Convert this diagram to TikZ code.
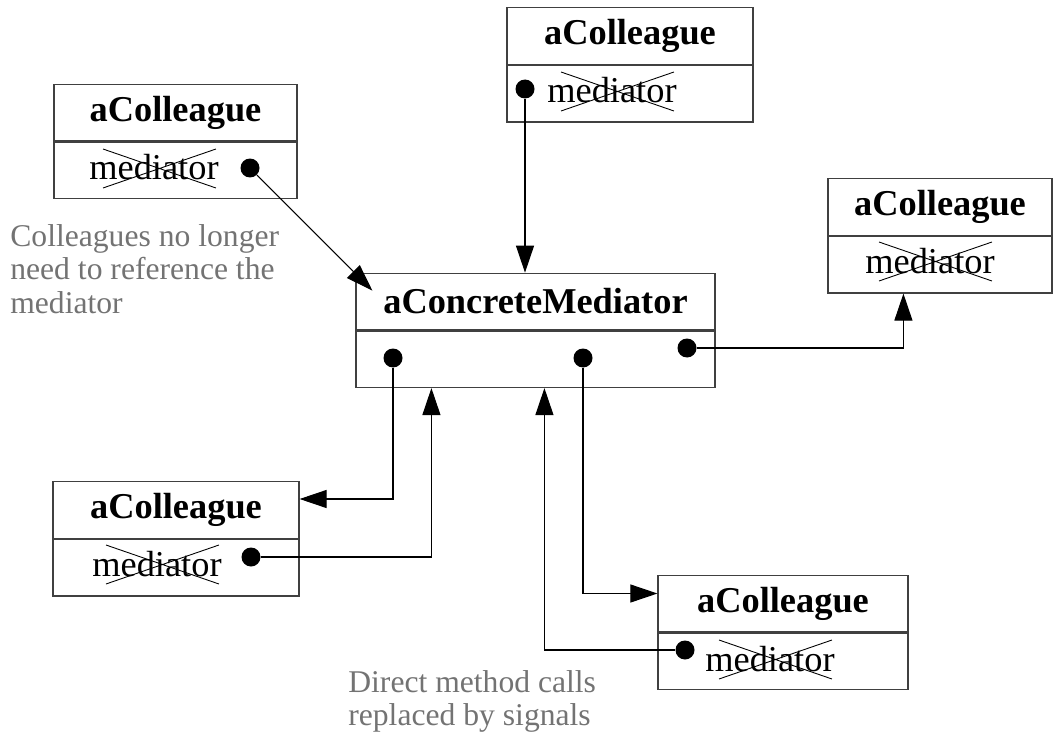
\documentclass[tikz,border=0pt]{standalone}
\usepackage{fontspec}
\setmainfont{Liberation Serif}
\usetikzlibrary{arrows.meta}

\begin{document}
\begin{tikzpicture}[
    x=0.02cm, y=-0.02cm,
    title/.style={rectangle, draw=black!75, line width=0.7pt, minimum height=1.13cm, inner sep=0pt, font=\bfseries\fontsize{20.7}{24}\selectfont},
    field/.style={rectangle, draw=black!75, line width=0.7pt, minimum height=1.13cm, inner sep=0pt, anchor=north},
    attr/.style={anchor=base west, inner sep=0pt, font=\fontsize{20.7}{24}\selectfont},
    dot/.style={circle, fill=black, inner sep=0pt, minimum size=0.38cm},
    conn/.style={line width=0.6pt},
    arrow/.style={conn, -{Triangle[length=0.54cm, width=0.36cm]}},
    cross/.style={line width=0.5pt},
    note/.style={anchor=north west, align=left, inner sep=0pt, text=black!55, font=\fontsize{18}{19.1}\selectfont},
]
\useasboundingbox (0,0) rectangle (1064,733);

% Mediator
\node[title, minimum width=7.18cm] (m) at (535.5,301.5) {aConcreteMediator};
\node[field, minimum width=7.18cm] (mf) at (m.south) {};

% Colleagues
\node[title, minimum width=4.86cm] (c1) at (175.5,112.5) {aColleague};
\node[field, minimum width=4.86cm] (c1f) at (c1.south) {};
\node[title, minimum width=4.92cm] (c2) at (630,36) {aColleague};
\node[field, minimum width=4.92cm] (c2f) at (c2.south) {};
\node[title, minimum width=4.48cm] (c3) at (940,207) {aColleague};
\node[field, minimum width=4.48cm] (c3f) at (c3.south) {};
\node[title, minimum width=4.92cm] (c4) at (176,510) {aColleague};
\node[field, minimum width=4.92cm] (c4f) at (c4.south) {};
\node[title, minimum width=5cm] (c5) at (783,603.5) {aColleague};
\node[field, minimum width=5cm] (c5f) at (c5.south) {};

% crossed-out mediator fields
\node[attr] (c1a) at (89,180) {mediator};
\node[attr] (c2a) at (547,103) {mediator};
\node[attr] (c3a) at (865,273) {mediator};
\node[attr] (c4a) at (92,576) {mediator};
\node[attr] (c5a) at (705,671) {mediator};
\foreach \n in {c1a,c2a,c3a,c4a,c5a}
    \draw[cross] ([shift={(14,-31)}]\n.base west) -- ([shift={(-3,8)}]\n.base east)
                 ([shift={(14,8)}]\n.base west) -- ([shift={(-3,-31)}]\n.base east);

% Dots
\node[dot] (d1) at (250,168) {};
\node[dot] (d2) at (525,89) {};
\node[dot] (d3) at (687,348) {};
\node[dot] (d4) at (393,358) {};
\node[dot] (d5) at (251,557) {};
\node[dot] (d6) at (583,358) {};
\node[dot] (d7) at (685,650) {};

% Connectors
\draw[arrow] (d1) -- ([shift={(17,18)}]m.north west);
\draw[arrow] (d2) -- (d2 |- m.north);
\draw[arrow] (d3) -| ([shift={(76,0)}]c3f.south west);
\draw[arrow] (d4) |- ([shift={(0,-11)}]c4.east);
\draw[arrow] (d5) -| ([shift={(76,0)}]mf.south west);
\draw[arrow] (d6) |- ([shift={(0,-10)}]c5.west);
\draw[arrow] (d7) -| ([shift={(189,0)}]mf.south west);

% Notes
\node[note] (n1) at (10,224) {Colleagues no longer\\need to reference the\\mediator};
\node[note] (n2) at (348,670) {Direct method calls\\replaced by signals};
\end{tikzpicture}
\end{document}
